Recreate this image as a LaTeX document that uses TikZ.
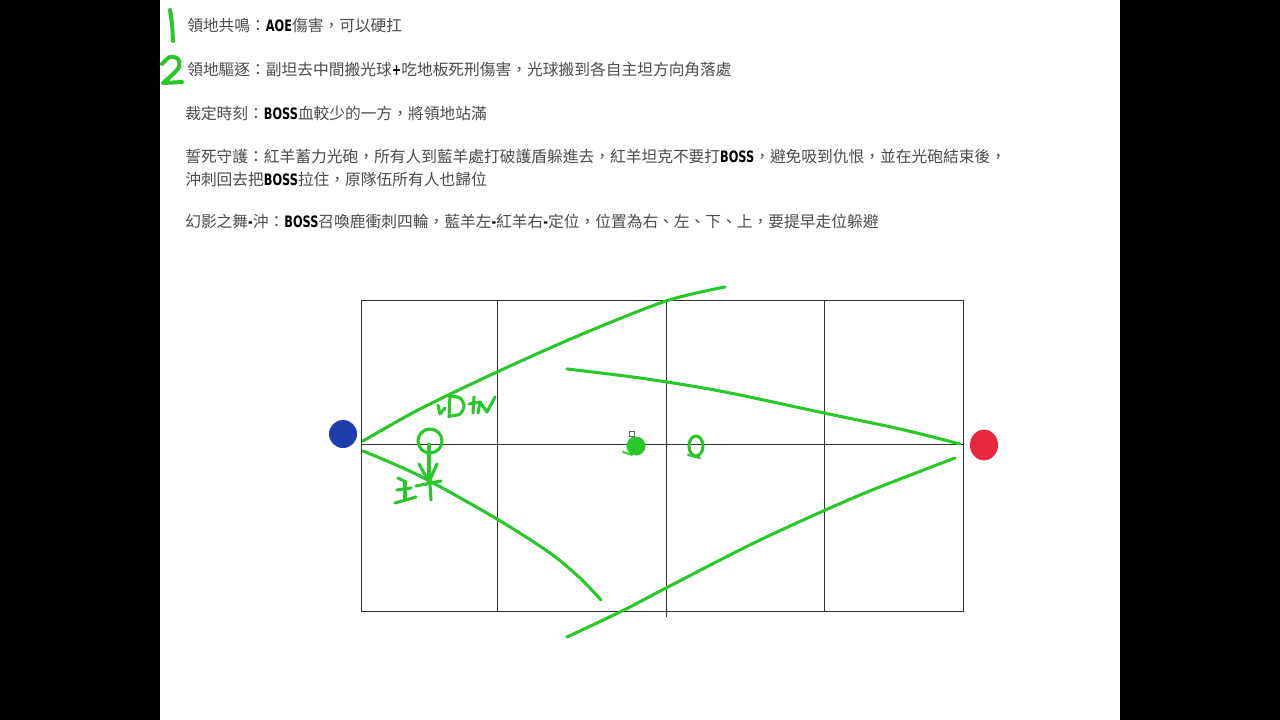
\documentclass[tikz,border=0pt]{standalone}
\usepackage{fontspec}
\usetikzlibrary{shapes.geometric}
\setmainfont{Noto Sans CJK TC}
\newfontfamily\bossfont{DejaVu Sans}[FakeStretch=0.72]
\newcommand\bossword[1]{{\bossfont\bfseries\color{black}#1}}
\definecolor{handgreen}{RGB}{40,200,40}
\definecolor{bluesheep}{RGB}{30,60,170}
\definecolor{redsheep}{RGB}{232,40,60}
\definecolor{notegray}{RGB}{75,75,75}
\tikzset{
  gridline/.style={black!80, line width=0.7pt},
  pen/.style={handgreen, line width=2.3pt, line cap=round, line join=round},
  note/.style={anchor=west, inner sep=0pt, text=notegray, font=\fontsize{11.8}{14}\selectfont}
}

\begin{document}
\begin{tikzpicture}[x=0.75pt, y=-0.75pt]
  % page
  \fill[black] (0,0) rectangle (1280,720);
  \fill[white] (160,0) rectangle (1120,720);
  \useasboundingbox (0,0) rectangle (1280,720);

  % notes
  \node[note] (n1) at (187,26) {領地共鳴：\bossword{AOE}傷害，可以硬扛};
  \node[note] (n2) at (187,70) {領地驅逐：副坦去中間搬光球\bossword{+}吃地板死刑傷害，光球搬到各自主坦方向角落處};
  \node[note] (n3) at (185,113) {裁定時刻：\bossword{BOSS}血較少的一方，將領地站滿};
  \node[note] (n4) at (185,157) {誓死守護：紅羊蓄力光砲，所有人到藍羊處打破護盾躲進去，紅羊坦克不要打\bossword{BOSS}，避免吸到仇恨，並在光砲結束後，};
  \node[note] (n5) at (185,180) {沖刺回去把\bossword{BOSS}拉住，原隊伍所有人也歸位};
  \node[note] (n6) at (185,222) {幻影之舞\bossword{-}沖：\bossword{BOSS}召喚鹿衝刺四輪，藍羊左\bossword{-}紅羊右\bossword{-}定位，位置為右、左、下、上，要提早走位躲避};

  % handwritten numbers
  \draw[pen, line width=3pt] plot[smooth] coordinates {(170,10) (172,24) (173,41)};
  \draw[pen, line width=3pt] plot[smooth] coordinates {(162,64) (170,57) (178,59) (179,67) (172,75) (163,83)} -- (182,82);

  % arena grid
  \draw[gridline] (361,300) rectangle (963,611);
  \draw[gridline] (497,300) -- (497,611);
  \draw[gridline] (666,300) -- (666,617);
  \draw[gridline] (824,300) -- (824,611);
  \draw[gridline] (361,444) -- (963,444);

  % sheep
  \node[circle, fill=bluesheep, minimum size=21pt, inner sep=0pt] (blue) at (343,434) {};
  \node[ellipse, fill=redsheep, minimum width=21pt, minimum height=23pt, inner sep=0pt] (red) at (984,445) {};

  % charge paths
  \draw[pen] plot[smooth] coordinates {(363,441) (420,409) (497,372) (580,335) (666,301) (725,287)};
  \draw[pen] plot[smooth] coordinates {(567,369) (640,378) (720,391) (824,413) (900,429) (960,444)};
  \draw[pen] plot[smooth] coordinates {(363,451) (420,476) (497,519) (550,553) (580,578) (601,600)};
  \draw[pen] plot[smooth] coordinates {(567,637) (622,611) (666,588) (760,540) (860,495) (955,458)};

  % orbs
  \fill[handgreen] (636,446) circle (9.5);
  \draw[pen, line width=1.4pt] (623,452) -- (632,455);
  \draw[black!60, line width=0.6pt] (629,431) rectangle (634,436);
  \draw[pen] (696,446) ellipse (7 and 10);
  \draw[pen, line width=1.6pt] (688,455) -- (700,458);

  % marks near blue
  \draw[pen] (430,441) circle (12);
  \draw[pen] (429,444) -- (429,481);
  \draw[pen] (419,464) -- (429,482) -- (437,464);
  \draw[pen] (416,486) -- (441,481);
  \draw[pen] (430,484) -- (431,500);
  \draw[pen] (398,478) -- (406,482);
  \draw[pen] (397,490) -- (411,488);
  \draw[pen] (395,503) -- (416,497);
  \draw[pen] (405,482) -- (405,500);
  % kD tN
  \draw[pen] (438,405) -- (440,414) -- (445,408);
  \draw[pen] (450,395) -- (449,417);
  \draw[pen] plot[smooth] coordinates {(450,396) (460,398) (464,406) (460,414) (450,416)};
  \draw[pen] (469,404) -- (480,402);
  \draw[pen] (474,397) -- (473,413);
  \draw[pen] (478,413) -- (480,402) -- (487,412) -- (495,397);
\end{tikzpicture}
\end{document}
